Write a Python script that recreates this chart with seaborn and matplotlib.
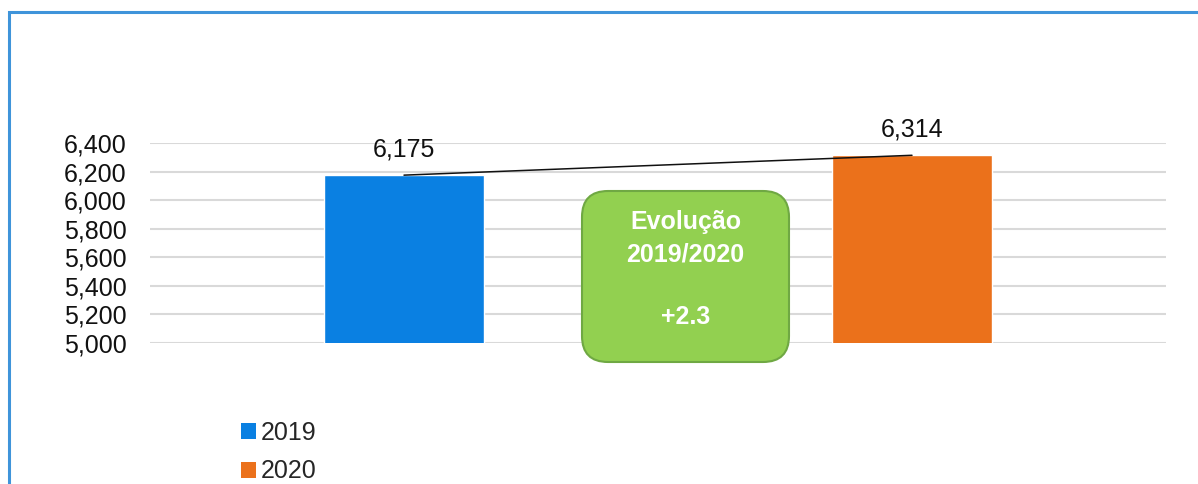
import matplotlib
matplotlib.use("Agg")
import matplotlib.pyplot as plt
import seaborn as sns
import numpy as np
import pandas as pd
from matplotlib.patches import Rectangle, FancyBboxPatch, Patch
from matplotlib.transforms import IdentityTransform
from matplotlib.ticker import FuncFormatter

categories = ["2019", "2020"]
values = [6175, 6314]
bar_colors = ["#0A80E2", "#EB711B"]
yticks = [5000, 5200, 5400, 5600, 5800, 6000, 6200, 6400]
box_title = ["Evolução", "2019/2020"]
box_value = "+2.3"

sns.set_theme(style="white")
plt.rcParams["font.family"] = ["Liberation Sans", "DejaVu Sans"]

W, H = 1198, 484
fig = plt.figure(figsize=(W / 100, H / 100), dpi=100)
ax = fig.add_axes([150 / W, 1 - 343 / H, (1166 - 150) / W, 200 / H])

df = pd.DataFrame({"ano": categories, "valor": values})
sns.barplot(data=df, x="ano", y="valor", hue="ano", palette=bar_colors,
            width=0.313, dodge=False, legend=False, ax=ax, saturation=1)

ax.set_ylim(5000, 6400)
ax.set_xlim(-0.5, 1.5)
ax.set_yticks(yticks)
ax.yaxis.set_major_formatter(FuncFormatter(lambda v, p: f"{int(v):,}"))
ax.grid(axis="y", color="#D9D9D9", linewidth=1.5)
ax.set_axisbelow(True)
for s in ax.spines.values():
    s.set_visible(False)
ax.tick_params(axis="y", length=0, pad=17, labelsize=18, labelcolor="#111111")
ax.set_xticks([])
ax.set_xlabel("")
ax.set_ylabel("")

pos = np.arange(len(categories))
ax.plot(pos, values, color="#111111", linewidth=1.1, zorder=5)
for x, v in zip(pos, values):
    ax.annotate(f"{v:,}", (x, v), xytext=(0, 10), textcoords="offset points",
                ha="center", va="bottom", fontsize=18, color="#111111",
                annotation_clip=False)

# green callout box (pixel coordinates)
box = FancyBboxPatch((582, H - 362), 789 - 582, 362 - 191,
                     boxstyle="round,pad=0,rounding_size=26",
                     transform=IdentityTransform(), facecolor="#92D050",
                     edgecolor="#6FA843", linewidth=1.5, zorder=10)
fig.patches.append(box)
cx = 685.5
fig.text(cx / W, 1 - 222 / H, box_title[0], ha="center", va="center",
         color="white", fontsize=18, fontweight="bold", zorder=11)
fig.text(cx / W, 1 - 255 / H, box_title[1], ha="center", va="center",
         color="white", fontsize=18, fontweight="bold", zorder=11)
fig.text(cx / W, 1 - 317 / H, box_value, ha="center", va="center",
         color="white", fontsize=18, fontweight="bold", zorder=11)

# legend
handles = [Patch(facecolor=c, edgecolor="none") for c in bar_colors]
fig.legend(handles, categories, loc="upper left",
           bbox_to_anchor=(241 / W, 1 - 421 / H), frameon=False,
           fontsize=18, handlelength=0.6, handleheight=0.6,
           handletextpad=0.2, labelspacing=0.58, borderaxespad=0,
           borderpad=0)

# outer frame
frame = Rectangle((9 / W, -0.2), 1.5, 1.2 - 12 / H, transform=fig.transFigure,
                  fill=False, edgecolor="#3F94DA", linewidth=2.2, clip_on=False)
fig.patches.append(frame)

fig.savefig("out.png", dpi=100, facecolor="white")
